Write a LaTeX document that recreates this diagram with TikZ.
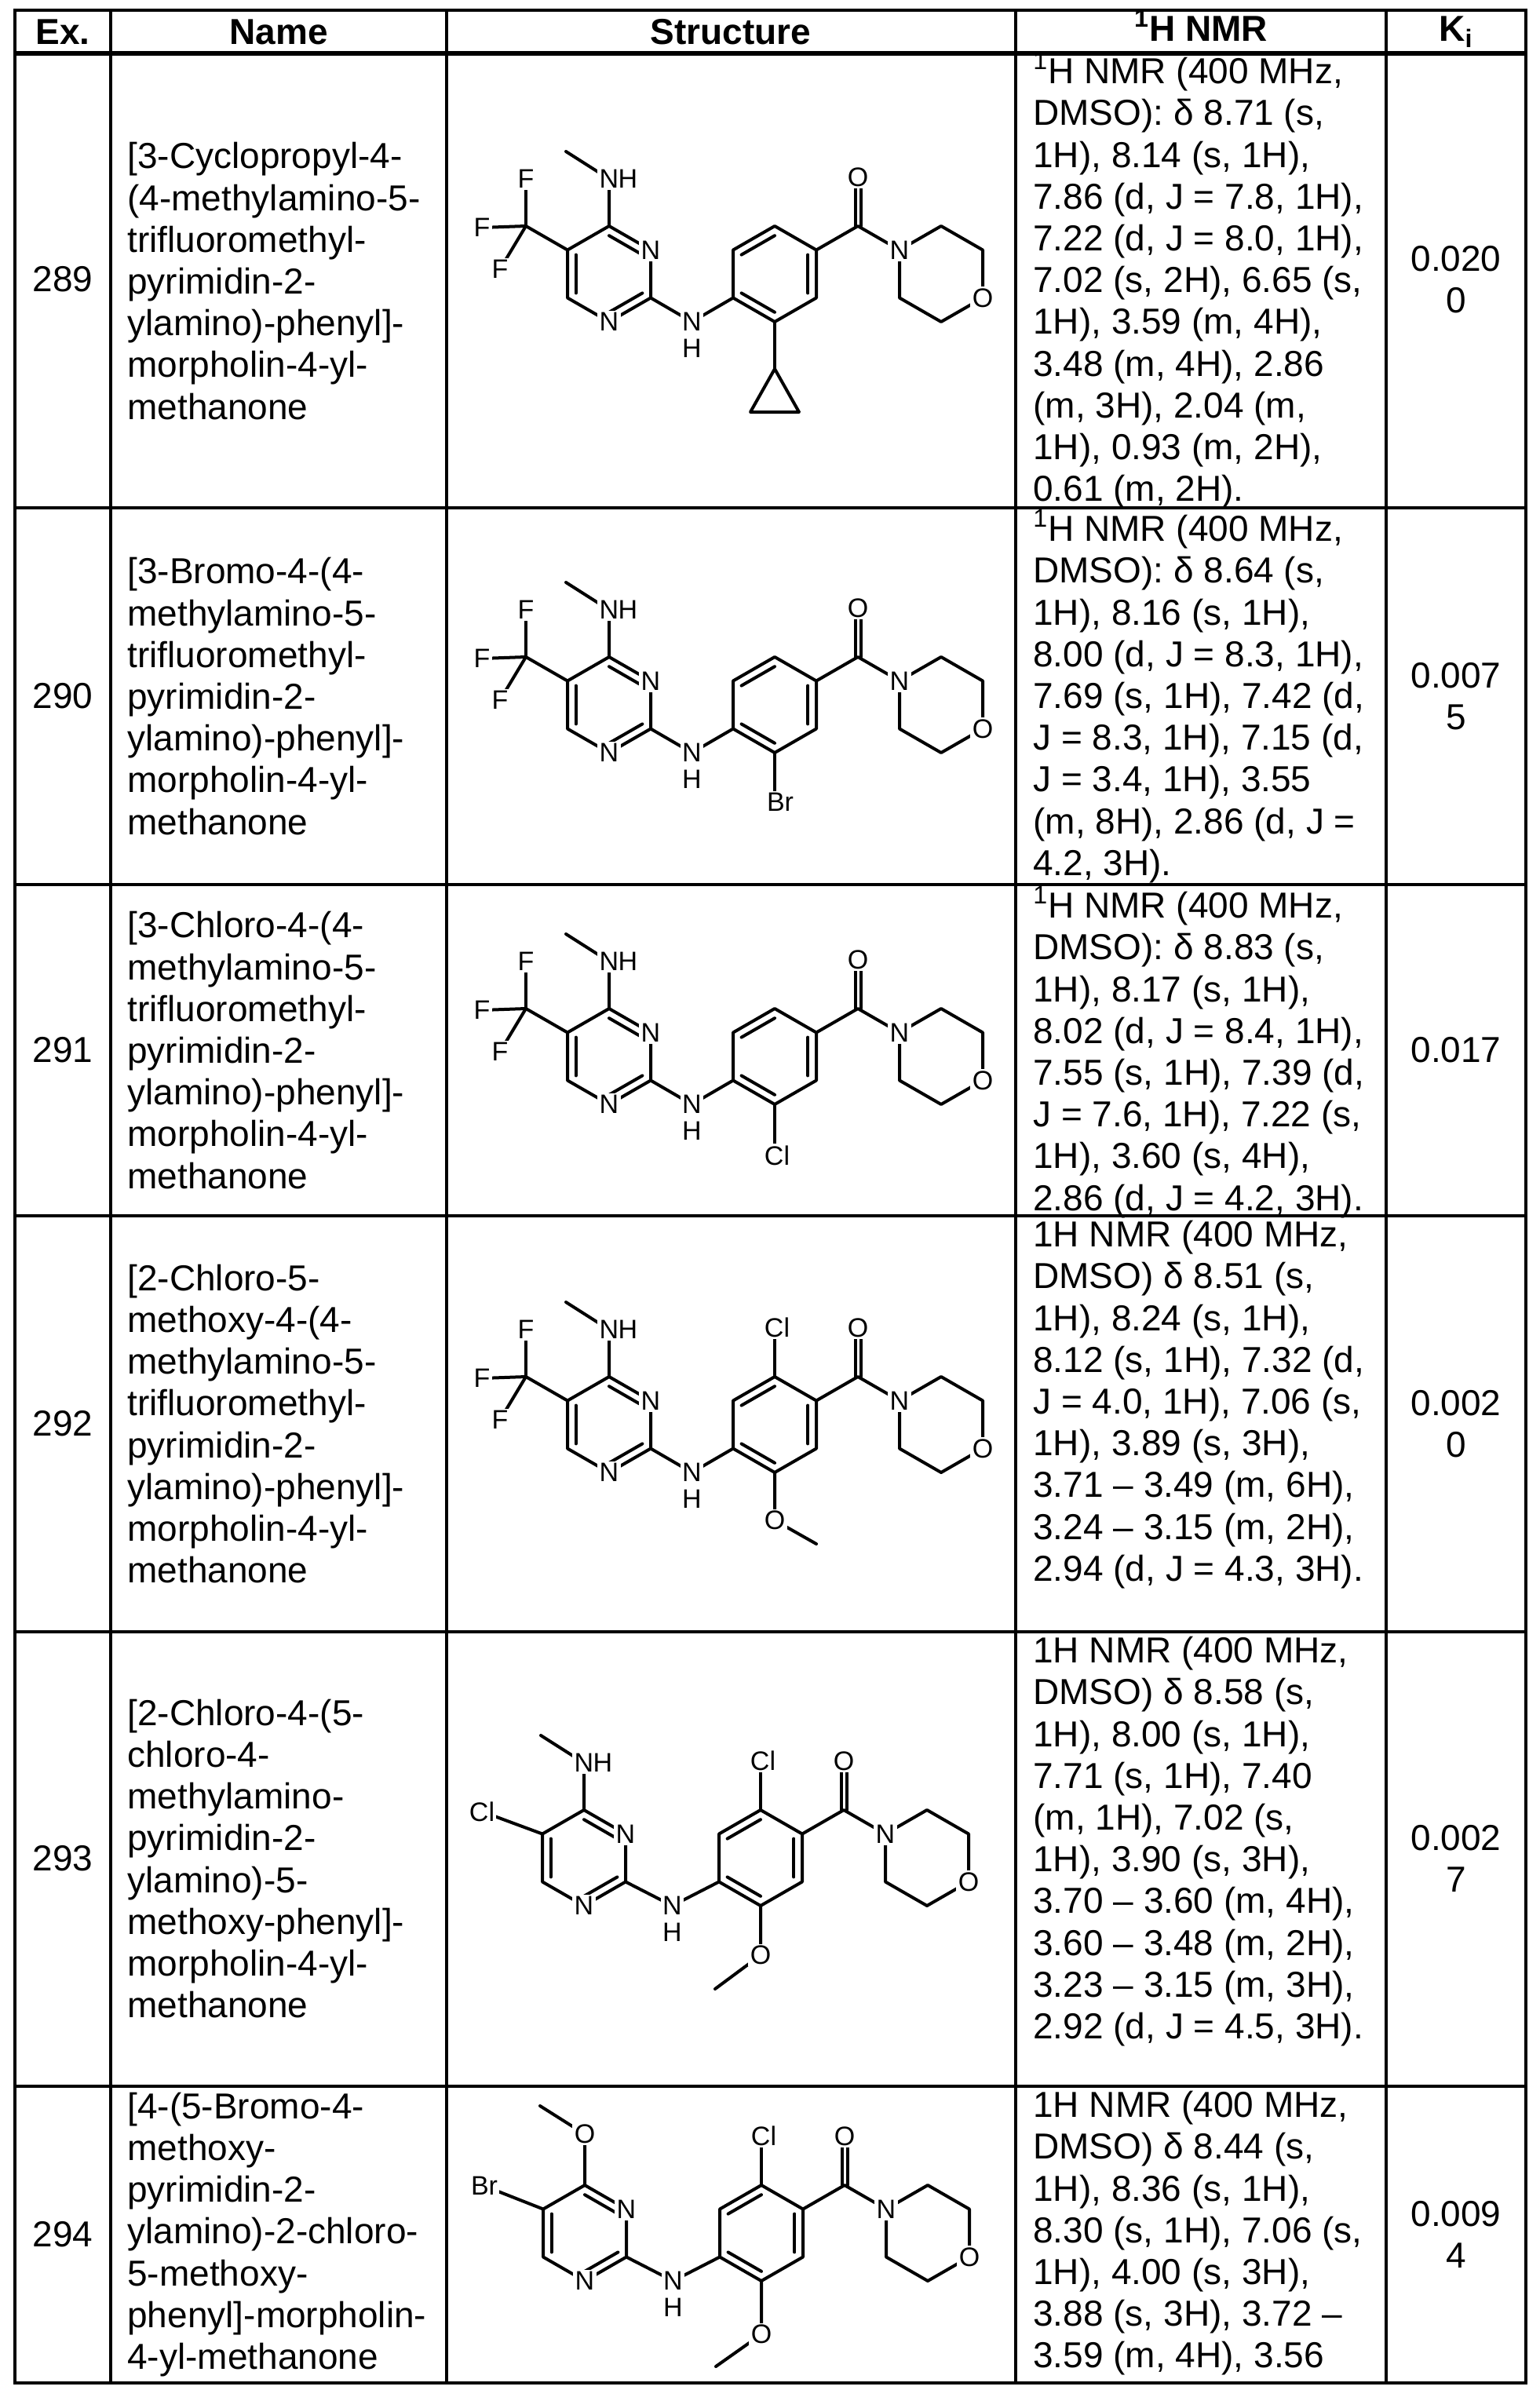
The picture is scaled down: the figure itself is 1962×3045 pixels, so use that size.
\documentclass[tikz,border=0pt]{standalone}
\usepackage{fontspec}
\setmainfont{Liberation Sans}
\usetikzlibrary{calc}
\tikzset{
  bond/.style={line width=2pt, line cap=round, line join=round},
  atom/.style={font=\fontsize{17}{17}\selectfont, fill=white, inner sep=1.2pt},
  atomh/.style={font=\fontsize{17}{17}\selectfont, inner sep=0pt},
  grid/.style={line width=1.6pt},
  txt/.style={font=\fontsize{23}{26.6}\selectfont, inner sep=0pt, align=left},
  ctr/.style={font=\fontsize{23}{26.6}\selectfont, inner sep=0pt, align=center},
  hdr/.style={font=\fontsize{23}{26.6}\selectfont\bfseries, inner sep=0pt},
}
\newcommand{\dbl}[3]{\draw[bond] ($(#1)!0.2!(#3)$) -- ($(#2)!0.2!(#3)$);}
\newcommand{\molcore}[1]{%
  \coordinate (c4) at (0,0); \coordinate (n3) at (53,30.5); \coordinate (c2) at (53,91.5);
  \coordinate (n1) at (0,122); \coordinate (c6) at (-53,91.5); \coordinate (c5) at (-53,30.5);
  \coordinate (pc) at (0,61);
  \coordinate (bn) at ({#1/2},122);
  \coordinate (b1) at (#1,0); \coordinate (b2) at ({#1+53},30.5); \coordinate (b3) at ({#1+53},91.5);
  \coordinate (b4) at (#1,122); \coordinate (b5) at ({#1-53},91.5); \coordinate (b6) at ({#1-53},30.5);
  \coordinate (bc) at (#1,61);
  \coordinate (cc) at ({#1+106},0); \coordinate (co) at ({#1+106},-62);
  \coordinate (m1) at ({#1+159},30.5); \coordinate (m2) at ({#1+212},0); \coordinate (m3) at ({#1+265},30.5);
  \coordinate (m4) at ({#1+265},91.5); \coordinate (m5) at ({#1+212},122); \coordinate (m6) at ({#1+159},91.5);
  \draw[bond] (c4)--(n3)--(c2)--(n1)--(c6)--(c5)--cycle;
  \draw[bond] (b1)--(b2)--(b3)--(b4)--(b5)--(b6)--cycle;
  \draw[bond] (c2)--(bn)--(b5);
  \draw[bond] (b2)--(cc)--(m1);
  \draw[bond] ($(cc)+(-3.5,0)$)--($(co)+(-3.5,0)$);
  \draw[bond] ($(cc)+(3.5,0)$)--($(co)+(3.5,0)$);
  \draw[bond] (m1)--(m2)--(m3)--(m4)--(m5)--(m6)--cycle;
  \dbl{c4}{n3}{pc} \dbl{c2}{n1}{pc} \dbl{c5}{c6}{pc}
  \dbl{b1}{b6}{bc} \dbl{b2}{b3}{bc} \dbl{b4}{b5}{bc}
  \node[atom] (an3) at (n3) {N};
  \node[atom] (an1) at (n1) {N};
  \node[atom] (abn) at (bn) {N};
  \node[atomh] (abh) at ({#1/2},156) {H};
  \node[atom] (am1) at (m1) {N};
  \node[atom] (am4) at (m4) {O};
  \node[atom] (aco) at (co) {O};
}
\newcommand{\nhme}{%
  \coordinate (nme) at (0,-60); \coordinate (me) at (-55,-95);
  \draw[bond] (c4)--(nme)--(me);
  \node[atom] (anme) at (nme) {N};
  \node[atomh] (anmeh) at (24,-60) {H};
}
\newcommand{\cfthree}{%
  \coordinate (cf) at (-106,0); \coordinate (f1) at (-106,-60);
  \coordinate (f2) at (-162,2); \coordinate (f3) at (-139,55);
  \draw[bond] (c5)--(cf); \draw[bond] (cf)--(f1); \draw[bond] (cf)--(f2); \draw[bond] (cf)--(f3);
  \node[atom] (af1) at (f1) {F}; \node[atom] (af2) at (f2) {F}; \node[atom] (af3) at (f3) {F};
}
\begin{document}
\begin{tikzpicture}[x=0.5pt,y=-0.5pt]
\useasboundingbox (0,0) rectangle (1962,3045);
\fill[white] (0,0) rectangle (1962,3045);
\draw[grid] (19,13) rectangle (1944,3036);
\foreach \yy in {647,1127,1549,2079,2658} \draw[grid] (19,\yy)--(1944,\yy);
\draw[line width=2.6pt] (19,68)--(1944,68);
\foreach \xx in {141,569,1294,1766} \draw[grid] (\xx,13)--(\xx,3036);
% header
\node[hdr] (h1) at (80,41) {Ex.};
\node[hdr] (h2) at (355,41) {Name};
\node[hdr] (h3) at (931,41) {Structure};
\node[hdr,anchor=base] (h4) at (1530,53) {\textsuperscript{1}H NMR};
\node[hdr,anchor=base] (h5) at (1855,53) {K\textsubscript{i}};
% Ex numbers
\node[ctr] (e1) at (80,356) {289};
\node[ctr] (e2) at (80,887) {290};
\node[ctr] (e3) at (80,1338) {291};
\node[ctr] (e4) at (80,1814) {292};
\node[ctr] (e5) at (80,2368) {293};
\node[ctr] (e6) at (80,2847) {294};
% names
\node[txt,anchor=west] (n1) at (162,358) {[3-Cyclopropyl-4-\\(4-methylamino-5-\\trifluoromethyl-\\pyrimidin-2-\\ylamino)-phenyl]-\\morpholin-4-yl-\\methanone};
\node[txt,anchor=west] (n2) at (162,887) {[3-Bromo-4-(4-\\methylamino-5-\\trifluoromethyl-\\pyrimidin-2-\\ylamino)-phenyl]-\\morpholin-4-yl-\\methanone};
\node[txt,anchor=west] (n3) at (162,1338) {[3-Chloro-4-(4-\\methylamino-5-\\trifluoromethyl-\\pyrimidin-2-\\ylamino)-phenyl]-\\morpholin-4-yl-\\methanone};
\node[txt,anchor=west] (n4) at (162,1814) {[2-Chloro-5-\\methoxy-4-(4-\\methylamino-5-\\trifluoromethyl-\\pyrimidin-2-\\ylamino)-phenyl]-\\morpholin-4-yl-\\methanone};
\node[txt,anchor=west] (n5) at (162,2368) {[2-Chloro-4-(5-\\chloro-4-\\methylamino-\\pyrimidin-2-\\ylamino)-5-\\methoxy-phenyl]-\\morpholin-4-yl-\\methanone};
\node[txt,anchor=west] (n6) at (162,2847) {[4-(5-Bromo-4-\\methoxy-\\pyrimidin-2-\\ylamino)-2-chloro-\\5-methoxy-\\phenyl]-morpholin-\\4-yl-methanone};
% NMR
\node[txt,anchor=north west] (r1) at (1316,66) {\textsuperscript{1}H NMR (400 MHz,\\DMSO): δ 8.71 (s,\\1H), 8.14 (s, 1H),\\7.86 (d, J = 7.8, 1H),\\7.22 (d, J = 8.0, 1H),\\7.02 (s, 2H), 6.65 (s,\\1H), 3.59 (m, 4H),\\3.48 (m, 4H), 2.86\\(m, 3H), 2.04 (m,\\1H), 0.93 (m, 2H),\\0.61 (m, 2H).};
\node[txt,anchor=north west] (r2) at (1316,649) {\textsuperscript{1}H NMR (400 MHz,\\DMSO): δ 8.64 (s,\\1H), 8.16 (s, 1H),\\8.00 (d, J = 8.3, 1H),\\7.69 (s, 1H), 7.42 (d,\\J = 8.3, 1H), 7.15 (d,\\J = 3.4, 1H), 3.55\\(m, 8H), 2.86 (d, J =\\4.2, 3H).};
\node[txt,anchor=north west] (r3) at (1316,1129) {\textsuperscript{1}H NMR (400 MHz,\\DMSO): δ 8.83 (s,\\1H), 8.17 (s, 1H),\\8.02 (d, J = 8.4, 1H),\\7.55 (s, 1H), 7.39 (d,\\J = 7.6, 1H), 7.22 (s,\\1H), 3.60 (s, 4H),\\2.86 (d, J = 4.2, 3H).};
\node[txt,anchor=north west] (r4) at (1316,1555) {1H NMR (400 MHz,\\DMSO) δ 8.51 (s,\\1H), 8.24 (s, 1H),\\8.12 (s, 1H), 7.32 (d,\\J = 4.0, 1H), 7.06 (s,\\1H), 3.89 (s, 3H),\\3.71 – 3.49 (m, 6H),\\3.24 – 3.15 (m, 2H),\\2.94 (d, J = 4.3, 3H).};
\node[txt,anchor=north west] (r5) at (1316,2085) {1H NMR (400 MHz,\\DMSO) δ 8.58 (s,\\1H), 8.00 (s, 1H),\\7.71 (s, 1H), 7.40\\(m, 1H), 7.02 (s,\\1H), 3.90 (s, 3H),\\3.70 – 3.60 (m, 4H),\\3.60 – 3.48 (m, 2H),\\3.23 – 3.15 (m, 3H),\\2.92 (d, J = 4.5, 3H).};
\node[txt,anchor=north west] (r6) at (1316,2664) {1H NMR (400 MHz,\\DMSO) δ 8.44 (s,\\1H), 8.36 (s, 1H),\\8.30 (s, 1H), 7.06 (s,\\1H), 4.00 (s, 3H),\\3.88 (s, 3H), 3.72 –\\3.59 (m, 4H), 3.56};
% Ki
\node[ctr] (k1) at (1855,356) {0.020\\0};
\node[ctr] (k2) at (1855,887) {0.007\\5};
\node[ctr] (k3) at (1855,1338) {0.017};
\node[ctr] (k4) at (1855,1814) {0.002\\0};
\node[ctr] (k5) at (1855,2368) {0.002\\7};
\node[ctr] (k6) at (1855,2847) {0.009\\4};
% structures
\begin{scope}[shift={(776,288)}]
  \molcore{211}\nhme\cfthree
  \coordinate (cp) at (211,182);
  \draw[bond] (b4)--(cp);
  \draw[bond] (cp)--(180,237)--(242,237)--cycle;
\end{scope}
\begin{scope}[shift={(776,837)}]
  \molcore{211}\nhme\cfthree
  \draw[bond] (b4)--(211,183);
  \node[atom] (sbr) at (218,185) {Br};
\end{scope}
\begin{scope}[shift={(776,1285)}]
  \molcore{211}\nhme\cfthree
  \draw[bond] (b4)--(211,185);
  \node[atom] (scl) at (214,187) {Cl};
\end{scope}
\begin{scope}[shift={(776,1754)}]
  \molcore{211}\nhme\cfthree
  \draw[bond] (b1)--(211,-63);
  \node[atom] (scl) at (214,-63) {Cl};
  \draw[bond] (b4)--(211,183)--(264,213);
  \node[atom] (so) at (211,183) {O};
\end{scope}
\begin{scope}[shift={(744,2306)}]
  \molcore{225}\nhme
  \draw[bond] (c5)--(-130,2);
  \node[atom] (spcl) at (-130,2) {Cl};
  \draw[bond] (b1)--(225,-63);
  \node[atom] (scl) at (228,-63) {Cl};
  \draw[bond] (b4)--(225,185)--(167,228);
  \node[atom] (so) at (225,185) {O};
\end{scope}
\begin{scope}[shift={(745,2784)}]
  \molcore{225}
  \draw[bond] (c4)--(0,-65)--(-57,-101);
  \node[atom] (spo) at (0,-65) {O};
  \draw[bond] (c5)--(-128,1);
  \node[atom] (spbr) at (-128,1) {Br};
  \draw[bond] (b1)--(225,-63);
  \node[atom] (scl) at (228,-63) {Cl};
  \draw[bond] (b4)--(225,190)--(167,231);
  \node[atom] (so) at (225,190) {O};
\end{scope}
\end{tikzpicture}
\end{document}
